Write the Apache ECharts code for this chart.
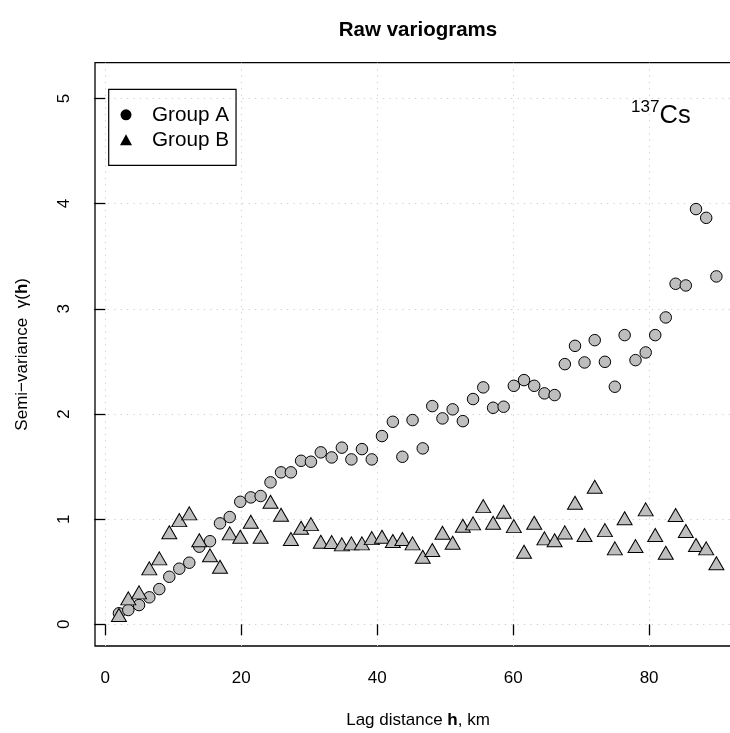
<!DOCTYPE html>
<html>
<head>
<meta charset="utf-8">
<script src="https://cdn.jsdelivr.net/npm/echarts@6/dist/echarts.min.js"></script>
<style>
html,body{margin:0;padding:0;background:#fff;}
#chart{width:730px;height:733px;}
</style>
</head>
<body>
<div id="chart"></div>
<script>
const lagKm = [2.0, 3.38, 4.96, 6.47, 7.94, 9.41, 10.88, 12.35, 13.82, 15.4,
  16.87, 18.3, 19.85, 21.4, 22.85, 24.3, 25.85, 27.3, 28.8, 30.25,
  31.7, 33.3, 34.8, 36.2, 37.75, 39.2, 40.7, 42.3, 43.7, 45.2,
  46.7, 48.1, 49.6, 51.1, 52.6, 54.1, 55.6, 57.05, 58.6, 60.1,
  61.6, 63.1, 64.6, 66.1, 67.6, 69.1, 70.5, 72.0, 73.5, 74.96,
  76.4, 78.0, 79.5, 80.9, 82.45, 83.9, 85.4, 86.9, 88.4, 89.9];
const groupA = [0.105, 0.136, 0.183, 0.257, 0.335, 0.452, 0.529, 0.586, 0.738, 0.79,
  0.96, 1.02, 1.165, 1.207, 1.22, 1.35, 1.445, 1.445, 1.555, 1.546,
  1.635, 1.587, 1.68, 1.568, 1.666, 1.568, 1.79, 1.926, 1.593, 1.942,
  1.673, 2.075, 1.958, 2.044, 1.932, 2.142, 2.253, 2.059, 2.069, 2.268,
  2.322, 2.268, 2.196, 2.18, 2.474, 2.648, 2.49, 2.702, 2.496, 2.259,
  2.75, 2.512, 2.585, 2.75, 2.918, 3.238, 3.222, 3.948, 3.865, 3.308];
const groupB = [0.088, 0.247, 0.304, 0.532, 0.627, 0.875, 0.991, 1.055, 0.80, 0.656,
  0.548, 0.865, 0.833, 0.975, 0.833, 1.165, 1.042, 0.811, 0.918, 0.953,
  0.785, 0.782, 0.76, 0.77, 0.77, 0.82, 0.833, 0.792, 0.811, 0.77,
  0.643, 0.706, 0.871, 0.776, 0.937, 0.96, 1.124, 0.966, 1.07, 0.934,
  0.69, 0.966, 0.817, 0.80, 0.874, 1.156, 0.849, 1.308, 0.896, 0.722,
  1.008, 0.744, 1.093, 0.849, 0.681, 1.039, 0.887, 0.754, 0.722, 0.58];
const xTicks = [0, 20, 40, 60, 80];
const yTicks = [0, 1, 2, 3, 4, 5];
const seriesNames = ['Group A', 'Group B'];

const FONT = '"Liberation Sans", Arial, Helvetica, sans-serif';
const chart = echarts.init(document.getElementById('chart'), null, {renderer: 'canvas'});

const gridLine = {show: true, lineStyle: {color: '#D3D3D3', width: 1, type: [1.4, 5]}};
const tickStyle = {color: '#000', width: 1.3};

chart.setOption({
  animation: false,
  backgroundColor: '#fff',
  title: {
    text: 'Raw variograms',
    left: 413, top: 15, textAlign: 'center',
    textStyle: {fontFamily: FONT, fontSize: 20.5, fontWeight: 'bold', color: '#000'}
  },
  grid: {
    left: 95, top: 62.7, width: 646, height: 583.3,
    show: true, borderColor: '#000', borderWidth: 1.3, backgroundColor: 'transparent',
    containLabel: false, outerBoundsMode: 'none'
  },
  legend: {
    orient: 'vertical', left: 108.7, top: 89.3,
    data: [
      {name: seriesNames[0], icon: 'circle', itemStyle: {color: '#000', borderWidth: 0}},
      {name: seriesNames[1], icon: 'triangle', itemStyle: {color: '#000', borderWidth: 0}}
    ],
    itemWidth: 12, itemHeight: 11, itemGap: 4,
    padding: [15, 7, 15, 11.3],
    borderColor: '#000', borderWidth: 1.2,
    selectedMode: false,
    textStyle: {fontFamily: FONT, fontSize: 20.7, lineHeight: 21, color: '#000', padding: [0, 0, 0, 15]}
  },
  xAxis: {
    type: 'value', min: -1.52, max: 93.52,
    axisLine: {show: false},
    axisTick: {show: true, length: 11, lineStyle: tickStyle, customValues: xTicks},
    axisLabel: {customValues: xTicks, margin: 24, fontFamily: FONT, fontSize: 17, color: '#000'},
    splitLine: gridLine,
    name: 'Lag distance {b|h}, km',
    nameLocation: 'middle', nameGap: 66,
    nameTextStyle: {fontFamily: FONT, fontSize: 17, color: '#000',
      rich: {b: {fontFamily: FONT, fontSize: 17, fontWeight: 'bold', color: '#000'}}}
  },
  yAxis: {
    type: 'value', min: -0.206, max: 5.34,
    axisLine: {show: false},
    axisTick: {show: true, length: 11, lineStyle: tickStyle, customValues: yTicks},
    axisLabel: {customValues: yTicks, rotate: 90, margin: 22, fontFamily: FONT, fontSize: 17, color: '#000'},
    splitLine: gridLine,
    name: 'Semi\u2212variance  \u03b3({b|h})',
    nameLocation: 'middle', nameGap: 64,
    nameTextStyle: {fontFamily: FONT, fontSize: 17, color: '#000',
      rich: {b: {fontFamily: FONT, fontSize: 17, fontWeight: 'bold', color: '#000'}}}
  },
  graphic: [
    {type: 'text', left: 631, top: 98.5, silent: true,
      style: {text: '137', fontFamily: FONT, fontSize: 17, fill: '#000'}},
    {type: 'text', left: 659.5, top: 103, silent: true,
      style: {text: 'Cs', fontFamily: FONT, fontSize: 25.5, fill: '#000'}}
  ],
  series: [
    {
      name: seriesNames[0], type: 'scatter', symbol: 'circle', symbolSize: 11.5,
      itemStyle: {color: '#BEBEBE', borderColor: '#000', borderWidth: 1, opacity: 1},
      emphasis: {disabled: true},
      data: lagKm.map((x, i) => [x, groupA[i]])
    },
    {
      name: seriesNames[1], type: 'scatter', symbol: 'triangle', symbolSize: [15, 13],
      itemStyle: {color: '#BEBEBE', borderColor: '#000', borderWidth: 1, opacity: 1},
      emphasis: {disabled: true},
      data: lagKm.map((x, i) => [x, groupB[i]])
    }
  ]
});
</script>
</body>
</html>
